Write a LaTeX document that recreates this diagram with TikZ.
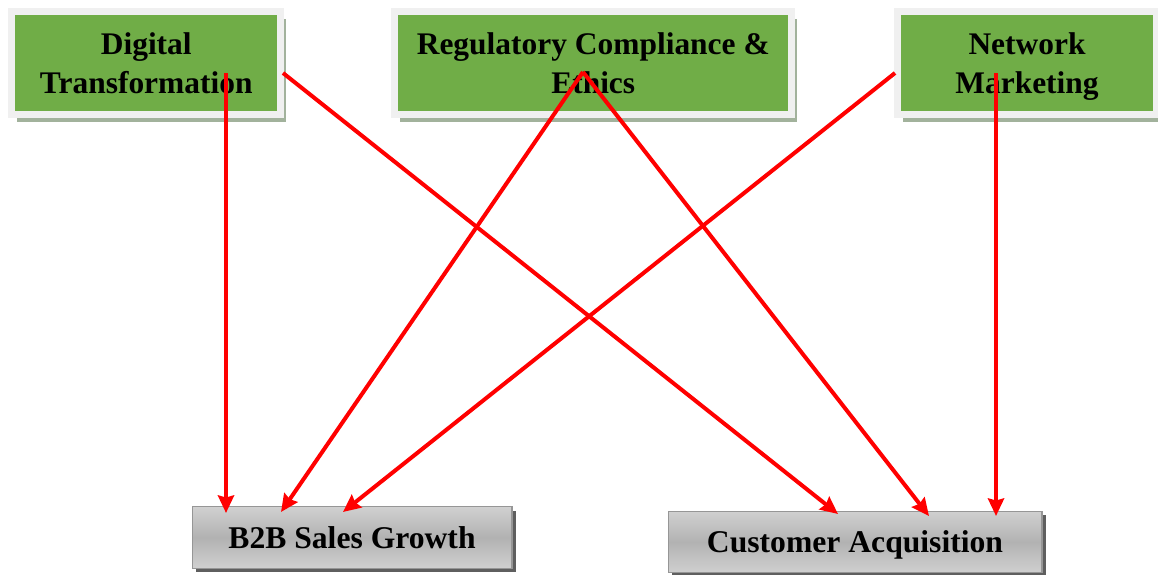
\documentclass[tikz,border=0pt]{standalone}
\usepackage{fontspec}
\setmainfont{Liberation Serif}
\usepackage{tikz}
\usetikzlibrary{arrows.meta, positioning, shadows}
\definecolor{boxgreen}{RGB}{112, 173, 71}
\definecolor{framegray}{RGB}{240, 240, 240}
\definecolor{greenshadow}{RGB}{162, 178, 156}
\definecolor{barlight}{RGB}{208, 208, 208}
\definecolor{barmid}{RGB}{178, 178, 178}
\definecolor{barline}{RGB}{150, 150, 150}
\definecolor{barshadow}{RGB}{95, 95, 95}
\definecolor{arrowred}{RGB}{255, 0, 0}

\begin{document}
\begin{tikzpicture}[x=0.02cm, y=-0.02cm,
  factor/.style={draw=framegray, line width=0.14cm, fill=boxgreen,
    minimum height=2.05cm, align=center, inner sep=0pt,
    font=\fontsize{17.9}{22.2}\selectfont\bfseries,
    drop shadow={shadow xshift=0.11cm, shadow yshift=-0.15cm, fill=greenshadow, opacity=1}},
  outcome/.style={draw=barline, line width=0.6pt, top color=barlight, bottom color=barlight,
    middle color=barmid, minimum height=1.23cm, inner sep=0pt, text depth=0pt,
    font=\fontsize{18}{21}\selectfont\bfseries,
    drop shadow={shadow xshift=0.08cm, shadow yshift=-0.08cm, fill=barshadow, opacity=1}},
  flow/.style={arrowred, line width=0.08cm, -{Stealth[length=0.35cm, width=0.32cm, inset=0.04cm]}}]
  \clip (0,0) rectangle (1158,574);
  \fill[white] (0,0) rectangle (1158,574);

  % Drivers
  \node[factor, minimum width=5.39cm] (digital) at (146.25,63) {Digital\\Transformation};
  \node[factor, minimum width=7.95cm] (regulatory) at (593.25,63) {Regulatory Compliance \&\\Ethics};
  \node[factor, minimum width=5.2cm] (network) at (1027,63) {Network\\\raisebox{0pt}[\height][0pt]{Marketing}};

  % Outcomes
  \node[outcome, minimum width=6.4cm] (b2b) at (352,537.5) {B2B Sales Growth};
  \node[outcome, minimum width=7.48cm] (customer) at (855,542) {Customer Acquisition};

  % Arrow ends
  \coordinate (digital-a) at (226,73);
  \coordinate (digital-b) at (283,73);
  \coordinate (regulatory-a) at (583,72);
  \coordinate (network-a) at (895,73);
  \coordinate (network-b) at (996,73);
  \coordinate (b2b-a) at (226,513);
  \coordinate (b2b-b) at (281,512);
  \coordinate (b2b-c) at (343,512);
  \coordinate (customer-a) at (838,514);
  \coordinate (customer-b) at (929,516);
  \coordinate (customer-c) at (996,516);

  % Links
  \draw[flow] (digital-a) -- (b2b-a);
  \draw[flow] (digital-b) -- (customer-a);
  \draw[flow] (regulatory-a) -- (b2b-b);
  \draw[flow] (regulatory-a) -- (customer-b);
  \draw[flow] (network-a) -- (b2b-c);
  \draw[flow] (network-b) -- (customer-c);
\end{tikzpicture}
\end{document}
